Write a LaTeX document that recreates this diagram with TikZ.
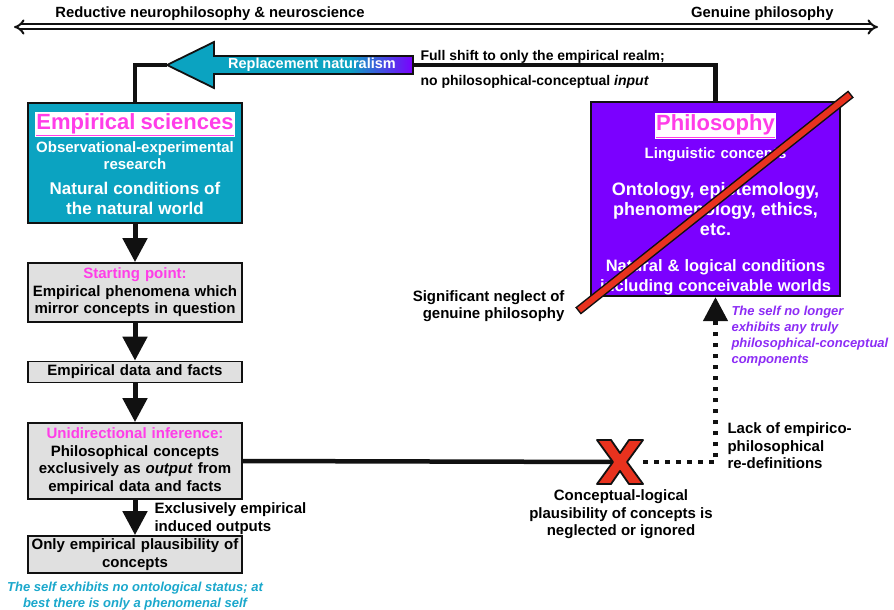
\documentclass[tikz,border=0pt]{standalone}
\usepackage{fontspec}
\setmainfont{Liberation Sans}
\usetikzlibrary{arrows.meta, calc, positioning}
\definecolor{empTeal}{HTML}{0BA3C1}
\definecolor{philPurple}{HTML}{7B00FF}
\definecolor{titlePink}{HTML}{FF3DE8}
\definecolor{boxGrey}{HTML}{E0E0E0}
\definecolor{selfCyan}{HTML}{1BA8CC}
\definecolor{selfPurple}{HTML}{8C2CF5}
\definecolor{strikeRed}{HTML}{E8321E}
\definecolor{lineBlack}{HTML}{111111}
\newcommand{\fsz}[2]{\fontsize{#1}{#2}\selectfont}
\newcommand{\ttl}[1]{\setlength{\fboxsep}{1.5pt}\colorbox{white}{\textcolor{titlePink}{\underline{#1}}}}
\pgfdeclarehorizontalshading{replShade}{100bp}{color(0bp)=(empTeal); color(62bp)=(empTeal); color(75bp)=(philPurple); color(100bp)=(philPurple)}

\begin{document}
\begin{tikzpicture}[x=1pt, y=-1pt,
  txt/.style={font=\bfseries\fsz{15}{17.5}},
  box/.style={txt, draw=lineBlack, line width=1.8pt, align=center,
              minimum width=214pt, text width=208pt, inner sep=1pt},
  greybox/.style={box, fill=boxGrey},
  flow/.style={line width=5pt, lineBlack, -{Triangle[length=24pt, width=24pt]}},
  conn/.style={line width=4.5pt, lineBlack},
  dotflow/.style={conn, dash pattern=on 4.5pt off 6.5pt, -{Triangle[length=24pt, width=24pt]}},
  selfnote/.style={font=\bfseries\itshape\fsz{13}{16}}]
  \useasboundingbox (0,0) rectangle (894,610);

  % scale on top
  \coordinate (scaleL) at (14,27);
  \coordinate (scaleR) at (878,27);
  \draw[lineBlack, line width=2pt, double=white, double distance=3pt,
        {Implies[scale=1.6]}-{Implies[scale=1.6]}] (scaleL) -- (scaleR);
  \node[txt, font=\bfseries\fsz{14.8}{17}] (redlbl) at (210,14) {Reductive neurophilosophy \& neuroscience};
  \node[txt, font=\bfseries\fsz{14.8}{17}, anchor=east] (genlbl) at (837,14) {Genuine philosophy};

  % the two realms
  \node[box, fill=empTeal, text=white, minimum height=120pt] (emp) at (135,163)
    {{\fsz{22}{26}\ttl{Empirical sciences}\par}\vspace{3pt}
     {\fsz{15}{17}Observational-experimental\\research\par}\vspace{6pt}
     {\fsz{17}{19.5}Natural conditions of\\the natural world\par}};
  \node[box, fill=philPurple, text=white, minimum width=249pt, text width=243pt,
        minimum height=194pt] (phil) at (715.5,199)
    {{\fsz{22}{26}\rule{0pt}{28pt}\ttl{Philosophy}\par}\vspace{8pt}
     {\fsz{15}{17}Linguistic concepts\par}\vspace{17pt}
     {\fsz{18}{20}Ontology, epistemology,\\phenomenology, ethics,\\etc.\par}\vspace{16pt}
     {\fsz{16.5}{20}Natural \& logical conditions\\including conceivable worlds\par}};

  % replacement naturalism
  \coordinate (replTip) at (167,65);
  \coordinate (replTail) at (413,65);
  \draw[conn] (emp.north) |- (replTip);
  \draw[conn] (replTail) -| (phil.north);
  \shadedraw[shading=replShade, draw=lineBlack, line width=1.8pt]
    (replTip) -- (214,42) -- (214,56) -- (413,56) -- (413,74) -- (214,74) -- (214,88) -- cycle;
  \node[txt, text=white, font=\bfseries\fsz{14.5}{17}] (repl) at (312,65) {Replacement naturalism};
  \node[txt, font=\bfseries\fsz{14}{25}, align=left, anchor=west] (shift) at (417,69.5)
    {Full shift to only the empirical realm;\\no philosophical-conceptual \textit{input}};

  % empirical chain
  \node[greybox, minimum height=59pt] (start) at (135,292.5)
    {\textcolor{titlePink}{Starting point:}\\Empirical phenomena which\\mirror concepts in question};
  \node[greybox, minimum height=21pt] (data) at (135,372) {Empirical data and facts};
  \node[greybox, minimum height=76pt] (infer) at (135,461)
    {\textcolor{titlePink}{Unidirectional inference:}\\Philosophical concepts\\exclusively as \textit{output} from\\empirical data and facts};
  \node[greybox, minimum height=37pt] (only) at (135,554.5)
    {Only empirical plausibility of\\concepts};
  \draw[flow] (emp) -- (start);
  \draw[flow] (start) -- (data);
  \draw[flow] (data) -- (infer);
  \draw[flow] (infer) -- (only);
  \node[txt, align=left, anchor=west] (induced) at (151,518.5) {Exclusively empirical\\induced outputs};
  \node[selfnote, text=selfCyan, align=center] (selfA) at (135,596)
    {The self exhibits no ontological status; at\\best there is only a phenomenal self};

  % neglect of philosophy
  \coordinate (strikeA) at (578,311);
  \coordinate (strikeB) at (851,94);
  \draw[line width=9pt, lineBlack] (strikeA) -- (strikeB);
  \draw[line width=6pt, strikeRed, shorten <=1.5pt, shorten >=1.5pt] (strikeA) -- (strikeB);
  \node[txt, align=right, anchor=east] (neglect) at (568,306) {Significant neglect of\\genuine philosophy};

  % inference blocked
  \node[minimum size=46pt, inner sep=0pt] (xmark) at (620,462) {};
  \draw[conn] (infer.east) -- (xmark.center);
  \draw[dotflow] (xmark.east) -| (phil.south);
  \filldraw[fill=strikeRed, draw=lineBlack, line width=1.8pt, line join=round]
    (xmark.center) ++(-23,-22) -- ++(14,0) -- ++(9,13) -- ++(9,-13) -- ++(14,0) -- ++(-16,22)
    -- ++(16,22) -- ++(-14,0) -- ++(-9,-13) -- ++(-9,13) -- ++(-14,0) -- ++(16,-22) -- cycle;
  \node[txt, align=center] (plaus) at (621,514.5)
    {Conceptual-logical\\plausibility of concepts is\\neglected or ignored};
  \node[txt, align=left, anchor=west] (lack) at (724,446) {Lack of empirico-\\philosophical\\re-definitions};
  \node[selfnote, text=selfPurple, align=left, anchor=north west] (selfB) at (728,303)
    {The self no longer\\exhibits any truly\\philosophical-conceptual\\components};
\end{tikzpicture}
\end{document}
